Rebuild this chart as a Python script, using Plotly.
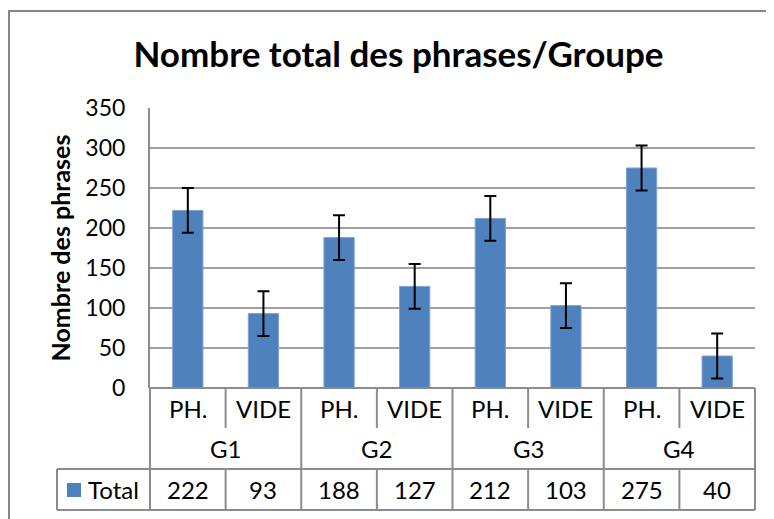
import plotly.graph_objects as go

groups = ["G1", "G2", "G3", "G4"]
subcats = ["PH.", "VIDE"]
totals = [222, 93, 188, 127, 212, 103, 275, 40]
errors = [28, 28, 28, 28, 28, 28, 28, 28]
y_ticks = [0, 50, 100, 150, 200, 250, 300, 350]
series_name = "Total"
title_text = "Nombre total des phrases/Groupe"
y_title = "Nombre des phrases"

BAR = "#4F81BD"
GRID = "#A0A0A0"
LINE = "#8C8C8C"
FONT = "Lato"

OFF = 8  # page body margin
W, H = 774 - OFF, 519 - OFF
# plot area in screen pixels: x 150..755, y 108..388
ML = 150 - OFF
MT = 108 - OFF
MR = W - (755 - OFF)
MB = H - (388 - OFF)
PW = W - ML - MR
PH_ = H - MT - MB

def px_x(p):
    return (p - OFF - ML) / PW

def px_y(p):
    return (H - MB - (p - OFF)) / PH_

n = len(totals)
xs = list(range(n))
labels = [f"{g} {s}" for g in groups for s in subcats]

fig = go.Figure()
fig.add_trace(go.Bar(
    x=xs, y=totals, name=series_name, width=0.4,
    marker=dict(color=BAR, line=dict(color="#7EA1D3", width=1)),
    error_y=dict(type="data", array=errors, visible=True, color="black", thickness=2, width=6),
    hovertext=labels,
))

shapes = []
ann = []
y_sub_bot = px_y(428)
y_grp_bot = px_y(469)
y_tab_bot = px_y(510)
x_leg = px_x(57)

def cx(i):
    return (i + 0.5) / n

def edge(i):
    return i / n

line = dict(color=LINE, width=2)
shapes.append(dict(type="line", xref="paper", yref="paper", x0=0, x1=1, y0=0, y1=0, line=line))
shapes.append(dict(type="line", xref="paper", yref="paper", x0=x_leg, x1=1, y0=y_grp_bot, y1=y_grp_bot, line=line))
shapes.append(dict(type="line", xref="paper", yref="paper", x0=x_leg, x1=1, y0=y_tab_bot, y1=y_tab_bot, line=line))
shapes.append(dict(type="line", xref="paper", yref="paper", x0=x_leg, x1=x_leg, y0=y_grp_bot, y1=y_tab_bot, line=line))
for i in range(n + 1):
    x = edge(i)
    if i % 2 == 0:
        shapes.append(dict(type="line", xref="paper", yref="paper", x0=x, x1=x, y0=0, y1=y_tab_bot, line=line))
    else:
        shapes.append(dict(type="line", xref="paper", yref="paper", x0=x, x1=x, y0=0, y1=y_sub_bot, line=line))
        shapes.append(dict(type="line", xref="paper", yref="paper", x0=x, x1=x, y0=y_grp_bot, y1=y_tab_bot, line=line))
# legend key square
shapes.append(dict(type="rect", xref="paper", yref="paper", x0=px_x(67), x1=px_x(81), y0=px_y(497), y1=px_y(483),
                   line=dict(width=0), fillcolor=BAR))
# outer chart border
shapes.append(dict(type="rect", xref="paper", yref="paper", x0=px_x(9), x1=px_x(800), y0=px_y(11), y1=px_y(560),
                   line=dict(color="#878787", width=2), fillcolor="rgba(0,0,0,0)", layer="below"))

tf = dict(family=FONT, size=24, color="black")
for i in range(n):
    ann.append(dict(x=cx(i), y=(0 + y_sub_bot) / 2, xref="paper", yref="paper", text=subcats[i % 2],
                    xanchor="center", yanchor="middle", showarrow=False, font=tf))
    ann.append(dict(x=cx(i), y=(y_grp_bot + y_tab_bot) / 2, xref="paper", yref="paper", text=str(totals[i]),
                    xanchor="center", yanchor="middle", showarrow=False, font=tf))
for g, name in enumerate(groups):
    ann.append(dict(x=(2 * g + 1) / n, y=(y_sub_bot + y_grp_bot) / 2, xref="paper", yref="paper", text=name,
                    xanchor="center", yanchor="middle", showarrow=False, font=tf))
ann.append(dict(x=px_x(86), y=(y_grp_bot + y_tab_bot) / 2, xref="paper", yref="paper",
                text=series_name, xanchor="left", yanchor="middle",
                showarrow=False, font=tf))

fig.update_layout(
    width=W, height=H,
    margin=dict(l=ML, r=MR, t=MT, b=MB, autoexpand=False),
    paper_bgcolor="white", plot_bgcolor="white",
    showlegend=False,
    title=dict(text=f"<b>{title_text}</b>", x=(398.5 - OFF) / W, xanchor="center",
               y=1 - (55 - OFF) / H, yanchor="middle",
               font=dict(family=FONT, size=35, color="black")),
    xaxis=dict(range=[-0.5, n - 0.5], showticklabels=False, showgrid=False, zeroline=False,
               fixedrange=True, automargin=False),
    yaxis=dict(range=[0, 350], tickvals=y_ticks, showgrid=True, gridcolor=GRID, gridwidth=2,
               zeroline=False, showline=True, linecolor=LINE, linewidth=2, automargin=False,
               ticks="outside", ticklen=0, tickfont=dict(family=FONT, size=23, color="black"),
               ticklabelstandoff=18,
               title=dict(text=f"<b>{y_title}</b>", font=dict(family=FONT, size=25, color="black"), standoff=8)),
    shapes=shapes,
    annotations=ann,
    bargap=0.6,
)

fig.write_html("out.html")
